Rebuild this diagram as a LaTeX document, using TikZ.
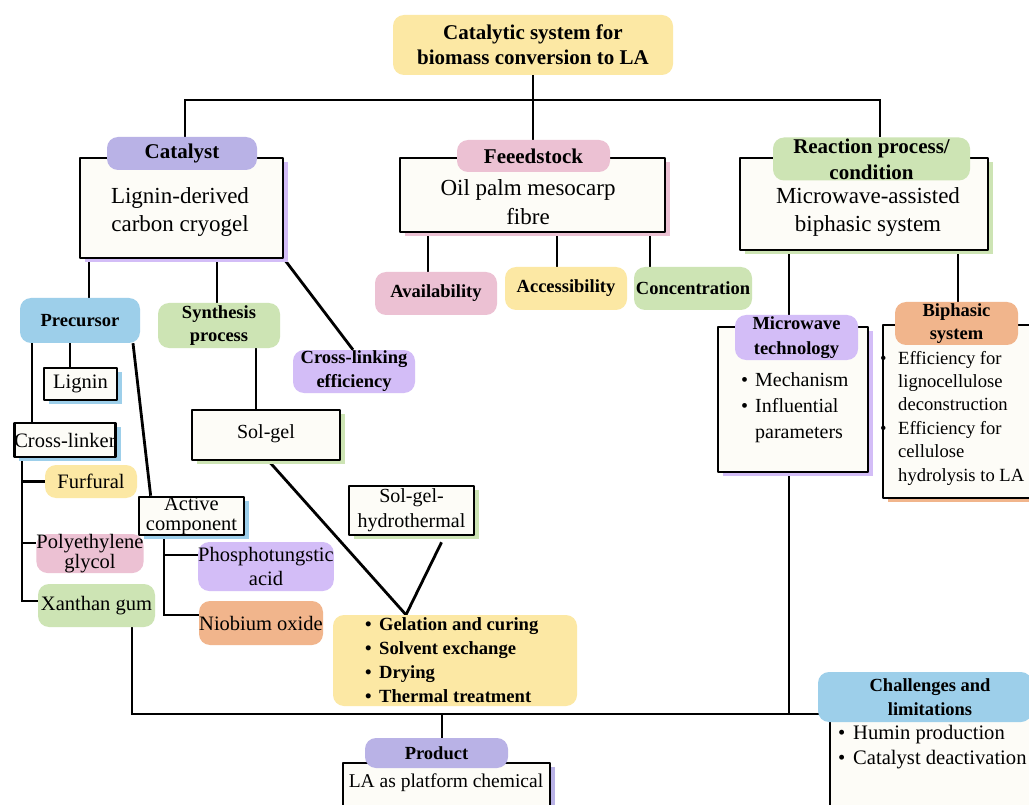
\documentclass[tikz,border=0pt]{standalone}
\usepackage{fontspec}
\setmainfont{Liberation Serif}
\usetikzlibrary{shadows,backgrounds,calc}
\definecolor{yel}{HTML}{FCE8A4}
\definecolor{catP}{HTML}{B9B2E6}
\definecolor{lpur}{HTML}{D3BDF7}
\definecolor{pinkC}{HTML}{ECC1D3}
\definecolor{greenC}{HTML}{CDE4B4}
\definecolor{blueC}{HTML}{9DCFEA}
\definecolor{orgC}{HTML}{F1B58C}
\definecolor{boxfill}{HTML}{FDFCF7}
\newcommand\bulx{\makebox[14pt][l]{\textbullet}}
\newcommand\bulw{\makebox[18pt][l]{\textbullet}}
\newcommand\indx{\hspace*{14pt}}
\newcommand\indw{\hspace*{18pt}}
\begin{document}
\begin{tikzpicture}[x=1pt,y=-1pt,
  conn/.style={draw=black,line width=2.8pt},
  blob/.style={fill=#1,draw=none,rounded corners=11pt,inner sep=0pt,align=center},
  box/.style={draw=black,line width=2.7pt,fill=boxfill,inner sep=0pt,align=center,line join=round,
    drop shadow={shadow xshift=5pt,shadow yshift=-4pt,fill=#1,opacity=1}},
  plainbox/.style={draw=black,line width=2.7pt,fill=boxfill,inner sep=0pt,line join=round},
  fT/.style={font=\fontsize{21}{25}\selectfont\bfseries,align=center},
  fL/.style={font=\fontsize{21}{26}\selectfont\bfseries,align=center},
  fS/.style={font=\fontsize{18.5}{23.5}\selectfont\bfseries,align=center},
  fB/.style={font=\fontsize{23}{28.5}\selectfont,align=center,inner sep=0pt},
  fN/.style={font=\fontsize{20.5}{24}\selectfont,align=center},
  lst/.style={align=left,anchor=west,inner sep=0pt}
]
\useasboundingbox (0,0) rectangle (1029,805);

% title
\node[blob=yel,minimum width=280,minimum height=60,fT] (title) at (533,45) {Catalytic system for\\biomass conversion to LA};

% catalyst
\node[box=lpur,minimum width=203,minimum height=100] (catbox) at (181.5,208) {};
\node[fB] (cattxt) at (180,212) {Lignin-derived\\carbon cryogel};
\node[blob=catP,minimum width=150,minimum height=33,fL] (catlab) at (182,153.5) {Catalyst};

% feedstock
\node[box=pinkC,minimum width=265,minimum height=74] (fdbox) at (532.5,195) {};
\node[fB] (fdtxt) at (528,202) {Oil palm mesocarp\\fibre};
\node[blob=pinkC,minimum width=153,minimum height=32,fL] (fdlab) at (533.5,156) {Feeedstock};

% reaction
\node[box=greenC,minimum width=248,minimum height=92] (rxbox) at (864,204) {};
\node[fB] (rxtxt) at (868,212) {Microwave-assisted\\biphasic system};
\node[blob=greenC,minimum width=197,minimum height=43,fL] (rxlab) at (871.5,159) {Reaction process/\\condition};

% feedstock children
\node[blob=pinkC,minimum width=122,minimum height=43,fS] (avail) at (436,293.5) {Availability};
\node[blob=yel,minimum width=122,minimum height=43,fS] (access) at (566,288.5) {Accessibility};
\node[blob=greenC,minimum width=118,minimum height=43,fS] (conc) at (693,288.5) {Concentration};

% catalyst children
\node[blob=blueC,minimum width=120,minimum height=45,fS] (prec) at (80,320.5) {Precursor};
\node[blob=greenC,minimum width=122,minimum height=45,fS,font=\fontsize{18.5}{23}\selectfont\bfseries] (synth) at (219,325.5) {Synthesis\\process};
\node[blob=lpur,minimum width=122,minimum height=43,fS,font=\fontsize{18.5}{24}\selectfont\bfseries] (xlink) at (354,371.5) {Cross-linking\\efficiency};

% precursor children
\node[box=blueC,minimum width=73,minimum height=32,fN] (lignin) at (80.5,384) {Lignin};
\node[box=blueC,minimum width=100,minimum height=34,fN] (xlinker) at (65,440) {Cross-linker};
\node[blob=yel,minimum width=92,minimum height=33,fN] (furf) at (91,481.5) {Furfural};
\node[blob=pinkC,minimum width=106,minimum height=39,fN,font=\fontsize{20.5}{18.5}\selectfont] (peg) at (90,553.5) {Polyethylene\\glycol};
\node[blob=greenC,minimum width=117,minimum height=43,fN] (xan) at (96.5,605.5) {Xanthan gum};
\node[box=blueC,minimum width=105,minimum height=36,fN,font=\fontsize{20.5}{20}\selectfont] (active) at (191.5,516) {Active\\component};
\node[blob=lpur,minimum width=134,minimum height=49,fN] (phos) at (266,566.5) {Phosphotungstic\\acid};
\node[blob=orgC,minimum width=124,minimum height=44,fN] (niob) at (261,623) {Niobium oxide};

% synthesis
\node[box=greenC,minimum width=148,minimum height=50,fN,font=\fontsize{20}{24}\selectfont] (solgel) at (266,435) {\raisebox{6pt}{Sol-gel}};
\node[box=greenC,minimum width=125,minimum height=49,fN,font=\fontsize{20}{25}\selectfont] (hydro) at (411.5,510.5) {Sol-gel-\\hydrothermal};
\node[blob=yel,minimum width=244,minimum height=91] (steps) at (455,660.5) {};
\node[lst,font=\fontsize{18.6}{24}\selectfont\bfseries] (stepst) at (365,660) {\bulx Gelation and curing\\\bulx Solvent exchange\\\bulx Drying\\\bulx Thermal treatment};

% product
\node[box=catP,minimum width=207,minimum height=60] (prodbox) at (446.5,793) {};
\node[fN,font=\fontsize{19.5}{24}\selectfont] (prodt) at (446,783) {LA as platform chemical};
\node[blob=catP,minimum width=143,minimum height=30,fS] (prodlab) at (436.5,753) {Product};

% microwave
\node[box=lpur,minimum width=150,minimum height=145] (mwbox) at (793,399.5) {};
\node[blob=lpur,minimum width=123,minimum height=45,fS,font=\fontsize{18.5}{25}\selectfont\bfseries] (mwlab) at (796.5,337.5) {Microwave\\technology};
\node[lst,font=\fontsize{20}{26}\selectfont] (mwlist) at (741,408) {\bulx Mechanism\\\bulx Influential\\\indx parameters};

% biphasic
\node[box=orgC,minimum width=157,minimum height=173] (bibox) at (961.5,411.5) {};
\node[blob=orgC,minimum width=123,minimum height=43,fS] (bilab) at (956.5,323.5) {Biphasic\\system};
\node[lst,font=\fontsize{18.6}{23.4}\selectfont] (bilist) at (880,418) {\bulw Efficiency for\\\indw lignocellulose\\\indw deconstruction\\\bulw Efficiency for\\\indw cellulose\\\indw hydrolysis to LA};

% challenges
\node[plainbox,minimum width=210,minimum height=90] (chbox) at (935,763) {};
\node[blob=blueC,minimum width=214,minimum height=50,fS] (chlab) at (925,697) {\hspace*{10pt}Challenges and\\\hspace*{10pt}limitations};
\node[lst,font=\fontsize{20.6}{25}\selectfont] (chlist) at (838,747) {\makebox[15pt][l]{\textbullet}Humin production\\\makebox[15pt][l]{\textbullet}Catalyst deactivation};

% connectors
\begin{pgfonlayer}{background}
\fill[white] (0,0) rectangle (1029,805);
\coordinate (hubL) at (185,100);
\coordinate (hubR) at (880,100);
\coordinate (spine) at ([xshift=-43pt]xlinker.south);
\coordinate (pegw) at ([yshift=10.5pt]peg.west);
\coordinate (xanw) at ([xshift=2pt,yshift=4.5pt]xan.west);
\coordinate (aspine) at ([xshift=-27.5pt]active.south);
\coordinate (phosw) at ([yshift=11.5pt]phos.west);
\coordinate (niobw) at ([yshift=8pt]niob.west);
\coordinate (bus) at (442,714);
\coordinate (busR) at ([xshift=10pt]chlab.west);
\draw[conn] (title.south) -- (title.south |- fdlab.north);
\draw[conn] (hubL |- catlab.north) -- (hubL) -- (hubR) -- (hubR |- rxlab.north);
\draw[conn] ([xshift=-8pt]avail.north) -- ([xshift=-8pt]avail.north |- fdbox.south);
\draw[conn] ([xshift=-9pt]access.north) -- ([xshift=-9pt]access.north |- fdbox.south);
\draw[conn] ([xshift=-43pt]conc.north) -- ([xshift=-43pt]conc.north |- fdbox.south);
\draw[conn] ([xshift=9pt]prec.north) -- ([xshift=9pt]prec.north |- catbox.south);
\draw[conn] ([xshift=-2pt]synth.north) -- ([xshift=-2pt]synth.north |- catbox.south);
\draw[conn] (catbox.south east) -- ([xshift=-1pt]xlink.north);
\draw[conn] ([xshift=-10pt]prec.south) -- ([xshift=-10pt]prec.south |- lignin.north);
\draw[conn] ([xshift=-48pt]prec.south) -- ([xshift=-48pt]prec.south |- xlinker.north);
\draw[conn] ([xshift=53pt]prec.south) -- ([xshift=13pt]active.north west);
\draw[conn] (spine) |- (xanw);
\draw[conn] (spine |- furf.west) -- (furf.west);
\draw[conn] (spine |- pegw) -- (pegw);
\draw[conn] (aspine) |- (niobw);
\draw[conn] (aspine |- phosw) -- (phosw);
\draw[conn] ([xshift=37pt]synth.south) -- ([xshift=37pt]synth.south |- solgel.north);
\draw[conn] ([xshift=3pt]solgel.south) -- ([xshift=-49pt]steps.north);
\draw[conn] ([xshift=30pt,yshift=-6pt]hydro.south) -- ([xshift=-49pt]steps.north);
\draw[conn] ([xshift=35.5pt]xan.south) |- (bus -| busR);
\draw[conn] (bus) -- (bus |- prodlab.north);
\draw[conn] ([xshift=-4pt]mwbox.south) -- ([xshift=-4pt]mwbox.south |- bus);
\draw[conn] ([xshift=-75pt]rxbox.south) -- ([xshift=-75pt]rxbox.south |- mwlab.north);
\draw[conn] ([xshift=94pt]rxbox.south) -- ([xshift=94pt]rxbox.south |- bilab.north);
\end{pgfonlayer}
\end{tikzpicture}
\end{document}
